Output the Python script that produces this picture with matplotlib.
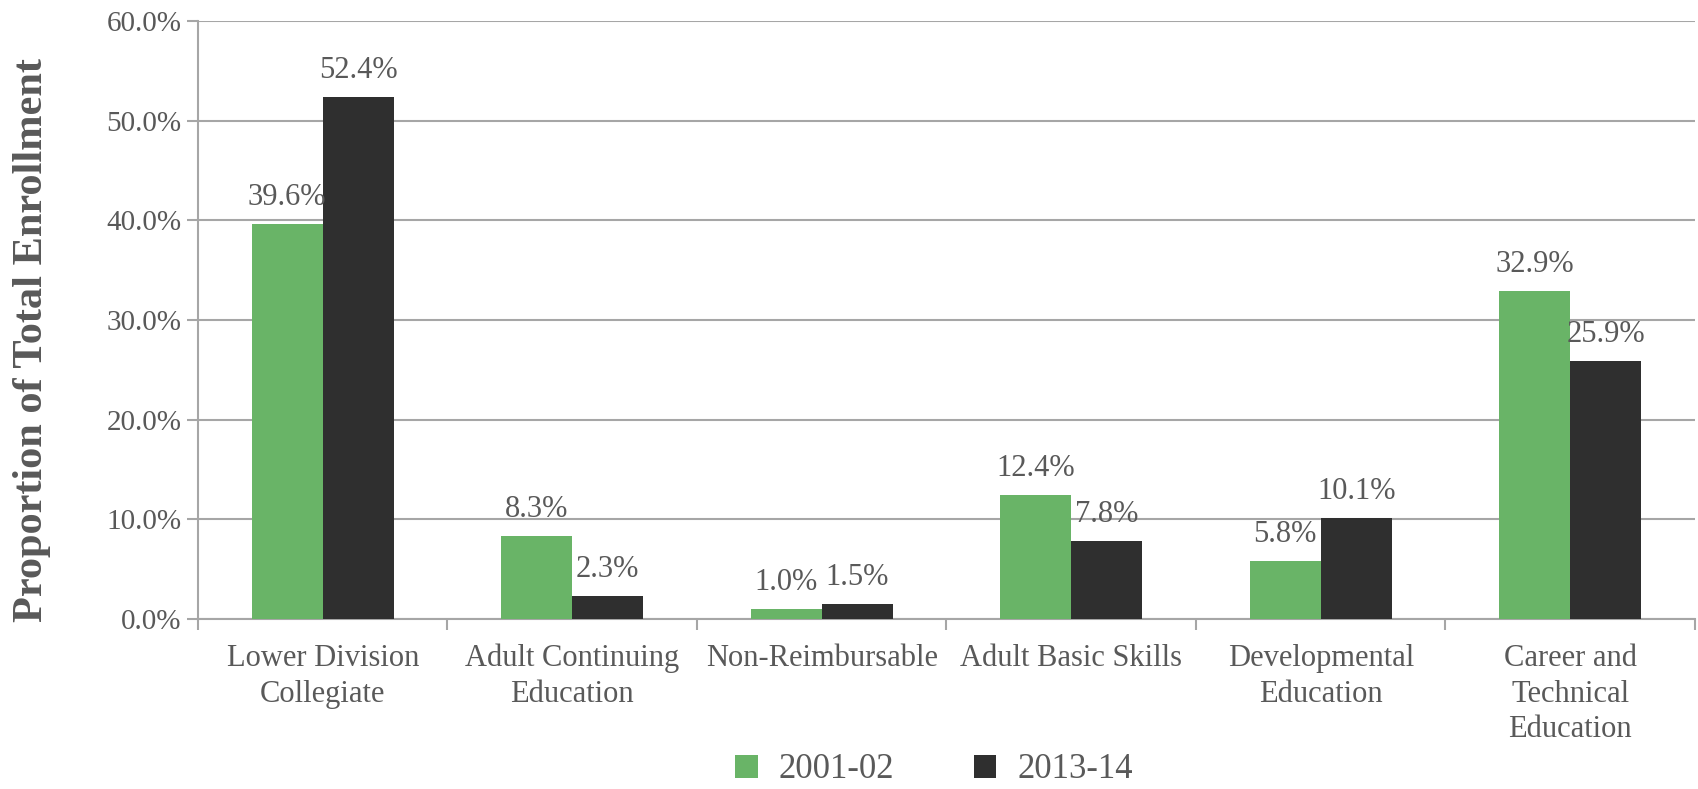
import numpy as np
import matplotlib
matplotlib.use("Agg")
import matplotlib.pyplot as plt
from matplotlib.ticker import FixedLocator, PercentFormatter

# data
categories = ["Lower Division\nCollegiate", "Adult Continuing\nEducation", "Non-Reimbursable",
              "Adult Basic Skills", "Developmental\nEducation", "Career and\nTechnical\nEducation"]
years = ["2001-02", "2013-14"]
vals_2001 = [39.6, 8.3, 1.0, 12.4, 5.8, 32.9]
vals_2013 = [52.4, 2.3, 1.5, 7.8, 10.1, 25.9]

colors = ["#69B467", "#2F2F2F"]
txt = "#595959"
grid = "#A6A6A6"

plt.rcParams["font.family"] = ["Liberation Serif", "DejaVu Serif"]

fig = plt.figure(figsize=(16.98, 7.89), dpi=100)
ax = fig.add_axes([0.1166, 0.2155, 0.8816, 0.7579])

x = np.arange(len(categories))
w = 0.285
b1 = ax.bar(x - w / 2, vals_2001, w, color=colors[0], label=years[0], zorder=3)
b2 = ax.bar(x + w / 2, vals_2013, w, color=colors[1], label=years[1], zorder=3)

for bars, vals in [(b1, vals_2001), (b2, vals_2013)]:
    for r, v in zip(bars, vals):
        ax.text(r.get_x() + r.get_width() / 2, v + 1.2, f"{v:.1f}%", ha="center", va="bottom",
                fontsize=22, color=txt, zorder=4)

ax.set_xlim(-0.5, len(categories) - 0.5)
ax.set_ylim(0, 60)
ax.set_yticks(np.arange(0, 61, 10))
ax.yaxis.set_major_formatter(PercentFormatter(decimals=1))
ax.yaxis.grid(True, color=grid, linewidth=1.5, zorder=0)

ax.set_xticks(x)
ax.set_xticklabels(categories, fontsize=22, color=txt, linespacing=1.3)
ax.xaxis.set_minor_locator(FixedLocator(np.arange(-0.5, len(categories), 1)))
ax.tick_params(axis="x", which="major", length=0, pad=18)
ax.tick_params(axis="x", which="minor", length=8, width=1.5, color=grid)
ax.tick_params(axis="y", length=8, width=1.5, color=grid, labelsize=21, labelcolor=txt, pad=4)

for s in ["top", "right"]:
    ax.spines[s].set_visible(False)
for s in ["left", "bottom"]:
    ax.spines[s].set_color(grid)
    ax.spines[s].set_linewidth(1.5)

ax.set_ylabel("Proportion of Total Enrollment", fontsize=30.5, fontweight="bold", color=txt)
ax.yaxis.set_label_coords(-0.098, 0.467)

fig.legend(loc="center", bbox_to_anchor=(0.55, 1 - 770 / 789), ncol=2, frameon=False, fontsize=25,
           labelcolor=txt, handlelength=0.65, handleheight=0.65, columnspacing=2.3, handletextpad=0.6,
           borderpad=0.2)

fig.savefig("out.png", dpi=100)
